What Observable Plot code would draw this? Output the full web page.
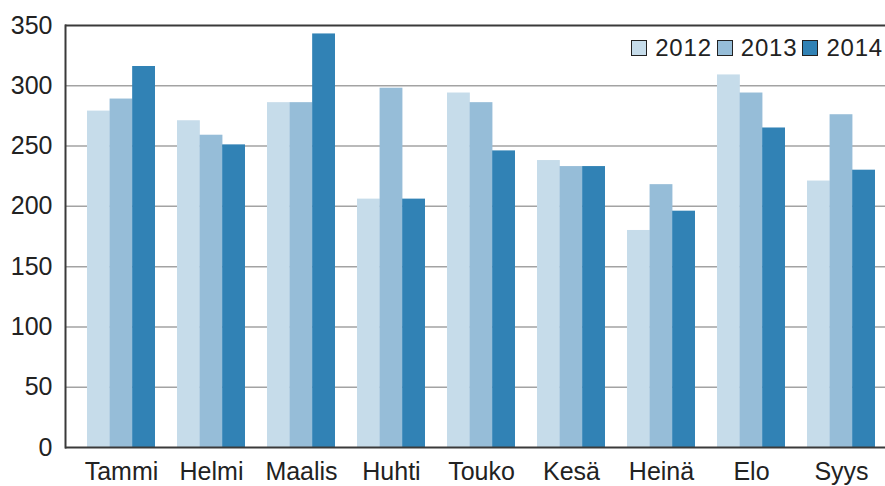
<!DOCTYPE html>
<html>
<head>
<meta charset="utf-8">
<script src="https://cdn.jsdelivr.net/npm/d3@7"></script>
<script src="https://cdn.jsdelivr.net/npm/@observablehq/plot@0.6"></script>
<style>
  html, body { margin: 0; padding: 0; background: #fff; }
  #wrap { position: relative; width: 885px; height: 486px; font-family: "Liberation Sans", Arial, sans-serif; color: #222; }
  #legend { position: absolute; top: 34px; right: 2px; display: flex; align-items: center; font-size: 24px; letter-spacing: 0.8px; white-space: nowrap; }
  #legend .item { display: flex; align-items: center; margin-left: 5px; }
  #legend .sw { width: 14px; height: 14px; border: 1.5px solid #222; margin-right: 8px; }
</style>
</head>
<body>
<div id="wrap"><div id="legend"></div></div>
<script>
const months = ["Tammi", "Helmi", "Maalis", "Huhti", "Touko", "Kesä", "Heinä", "Elo", "Syys"];
const years = ["2012", "2013", "2014"];
const v2012 = [279, 271, 286, 206, 294, 238, 180, 309, 221];
const v2013 = [289, 259, 286, 298, 286, 233, 218, 294, 276];
const v2014 = [316, 251, 343, 206, 246, 233, 196, 265, 230];
const yTicks = [0, 50, 100, 150, 200, 250, 300, 350];
const colors = ["#c6dcea", "#96bdd8", "#3182b5"];

const series = [v2012, v2013, v2014];
const data = years.flatMap((yr, k) => months.map((m, i) => ({month: m, year: yr, value: series[k][i]})));

const xRange = [85.3, 875.7];
const bw = d3.scaleBand(months, xRange).paddingInner(0.25).paddingOuter(0).bandwidth();
const sub = bw / years.length;

const barMarks = years.map((yr, k) => Plot.barY(data.filter(d => d.year === yr), {
  x: "month", y: "value", fill: colors[k],
  insetLeft: k * sub, insetRight: (years.length - 1 - k) * sub
}));

const chart = Plot.plot({
  width: 885,
  height: 486,
  marginLeft: 65,
  marginRight: 0,
  marginTop: 25,
  marginBottom: 39,
  style: {fontSize: "25px", fontFamily: "'Liberation Sans', Arial, sans-serif", color: "#222", background: "#fff"},
  x: {type: "band", domain: months, range: xRange, paddingInner: 0.25, paddingOuter: 0, label: null, tickSize: 0, tickPadding: 15},
  y: {domain: [0, 350], ticks: yTicks, label: null, tickSize: 0, tickPadding: 13},
  marks: [
    Plot.ruleY(yTicks.filter(t => t > 0 && t < 350), {stroke: "#a3a3a3", strokeWidth: 1.5}),
    ...barMarks,
    Plot.ruleY([350], {stroke: "#3a3a3a", strokeWidth: 2}),
    Plot.ruleY([0], {stroke: "#3a3a3a", strokeWidth: 2}),
    Plot.frame({anchor: "left", stroke: "#3a3a3a", strokeWidth: 2})
  ]
});
document.getElementById("wrap").prepend(chart);

const legend = document.getElementById("legend");
years.forEach((yr, k) => {
  const item = document.createElement("div");
  item.className = "item";
  const sw = document.createElement("div");
  sw.className = "sw";
  sw.style.background = colors[k];
  const t = document.createElement("span");
  t.textContent = yr;
  item.append(sw, t);
  legend.append(item);
});
</script>
</body>
</html>
